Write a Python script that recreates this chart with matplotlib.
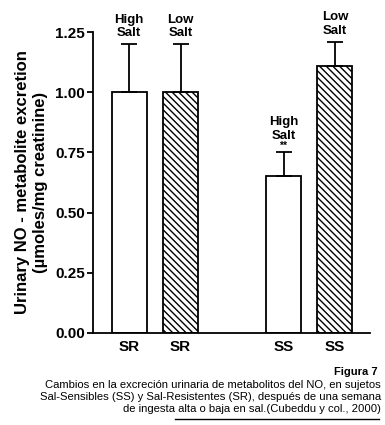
import matplotlib
matplotlib.use("Agg")
import matplotlib.pyplot as plt

plt.rcParams['font.family'] = ['Liberation Sans', 'DejaVu Sans']
plt.rcParams['hatch.linewidth'] = 1.0

groups = ["SR", "SR", "SS", "SS"]
positions = [0, 1, 3, 4]
values = [1.00, 1.00, 0.65, 1.11]
errors = [0.20, 0.20, 0.10, 0.10]
salt_labels = ["High\nSalt", "Low\nSalt", "High\nSalt", "Low\nSalt"]
sig_marks = ["", "", "**", ""]
hatched = [False, True, False, True]
yticks = [0.00, 0.25, 0.50, 0.75, 1.00, 1.25]

fig = plt.figure(figsize=(3.85, 4.25), dpi=100)
ax = fig.add_axes([93/385, 92/425, (370-93)/385, (333-32)/425])

for x, v, e, h in zip(positions, values, errors, hatched):
    ax.bar(x, v, width=0.68, color='white', edgecolor='black', linewidth=1.3,
           hatch='\\\\\\\\\\' if h else None, zorder=2)
    ax.errorbar(x, v, yerr=[[0], [e]], fmt='none', ecolor='black',
                elinewidth=1.3, capsize=6, capthick=1.3, zorder=3)

for x, v, e, lab, s in zip(positions, values, errors, salt_labels, sig_marks):
    top = v + e
    if s:
        ax.text(x, top + 0.005, s, ha='center', va='bottom', fontsize=7.5, fontweight='bold')
        ax.text(x, top + 0.045, lab, ha='center', va='bottom', fontsize=9.5,
                fontweight='bold', linespacing=1.15)
    else:
        ax.text(x, top + 0.02, lab, ha='center', va='bottom', fontsize=9.5,
                fontweight='bold', linespacing=1.15, clip_on=False)

ax.set_xlim(-0.70, 4.68)
ax.set_ylim(0, 1.25)
ax.set_yticks(yticks)
ax.set_yticklabels([f"{t:.2f}" for t in yticks], fontsize=11, fontweight='bold')
ax.set_xticks(positions)
ax.set_xticklabels(groups, fontsize=11, fontweight='bold')
ax.tick_params(axis='x', length=0, pad=5)
ax.tick_params(axis='y', length=4, width=1.3, direction='out', pad=2)
for sp in ['top', 'right']:
    ax.spines[sp].set_visible(False)
for sp in ['left', 'bottom']:
    ax.spines[sp].set_linewidth(1.3)

ax.set_ylabel("Urinary NO - metabolite excretion\n(µmoles/mg creatinine)",
              fontsize=12, fontweight='bold', linespacing=1.25, labelpad=5)

fig.text(378/385, 1 - 372/425, "Figura 7", ha='right', va='center', fontsize=8, fontweight='bold')
caption = ("Cambios en la excreción urinaria de metabolitos del NO, en sujetos\n"
           "Sal-Sensibles (SS) y Sal-Resistentes (SR), después de una semana\n"
           "de ingesta alta o baja en sal.(Cubeddu y col., 2000)")
fig.text(381/385, 1 - 397/425, caption, ha='right', va='center', fontsize=8.1,
         linespacing=1.2, multialignment='right')
fig.add_artist(plt.Line2D([175/385, 379/385], [1 - 419/425, 1 - 419/425],
                          color='black', linewidth=1.0, transform=fig.transFigure))

fig.savefig("out.png", dpi=100)
